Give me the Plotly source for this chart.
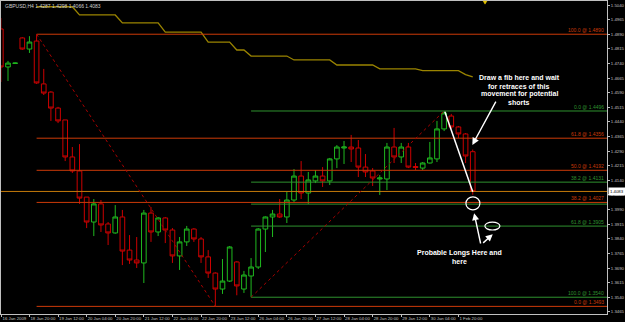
import plotly.graph_objects as go

symbol = "GBPUSD,H4"
bars = list(range(67))
opens = [1.4917, 1.4722, 1.4740, 1.4871, 1.4814, 1.4855, 1.4635, 1.4593, 1.4511, 1.4450,
         1.4260, 1.4188, 1.4054, 1.3926, 1.4019, 1.3916, 1.3870, 1.3952, 1.3782, 1.3731,
         1.3716, 1.3972, 1.3875, 1.3947, 1.3885, 1.3752, 1.3824, 1.3890, 1.3839, 1.3747,
         1.3664, 1.3582, 1.3623, 1.3721, 1.3582, 1.3649, 1.3695, 1.3890, 1.3952, 1.3967,
         1.3952, 1.4039, 1.4162, 1.4075, 1.4137, 1.4162, 1.4137, 1.4250, 1.4306, 1.4311,
         1.4306, 1.4208, 1.4188, 1.4147, 1.4147, 1.4311, 1.4260, 1.4311, 1.4211, 1.4203,
         1.4229, 1.4250, 1.4404, 1.4470, 1.4414, 1.4378, 1.4287]
highs = [1.4973, 1.4753, 1.4745, 1.4875, 1.4880, 1.4890, 1.4712, 1.4598, 1.4517, 1.4450,
         1.4311, 1.4326, 1.4054, 1.4044, 1.4039, 1.3926, 1.4013, 1.3988, 1.3859, 1.3849,
         1.3988, 1.4003, 1.3952, 1.3952, 1.3895, 1.3849, 1.3906, 1.3895, 1.3849, 1.3782,
         1.3668, 1.3736, 1.3803, 1.3725, 1.3675, 1.3741, 1.3895, 1.3955, 1.3988, 1.4044,
         1.4080, 1.4198, 1.4239, 1.4183, 1.4193, 1.4208, 1.4255, 1.4321, 1.4342, 1.4373,
         1.4347, 1.4275, 1.4203, 1.4167, 1.4332, 1.4409, 1.4332, 1.4332, 1.4229, 1.4234,
         1.4337, 1.4445, 1.4496, 1.4481, 1.4419, 1.4383, 1.4298]
lows = [1.4645, 1.4650, 1.4738, 1.4810, 1.4794, 1.4635, 1.4578, 1.4445, 1.4434, 1.4239,
        1.4178, 1.4019, 1.3895, 1.3854, 1.3875, 1.3808, 1.3866, 1.3705, 1.3711, 1.3690,
        1.3613, 1.3824, 1.3854, 1.3818, 1.3716, 1.3680, 1.3803, 1.3824, 1.3716, 1.3639,
        1.3493, 1.3557, 1.3618, 1.3550, 1.3562, 1.3540, 1.3685, 1.3772, 1.3849, 1.3947,
        1.3921, 1.4029, 1.4044, 1.4019, 1.4126, 1.4106, 1.4116, 1.4203, 1.4224, 1.4234,
        1.4157, 1.4157, 1.4111, 1.4065, 1.4090, 1.4229, 1.4229, 1.4203, 1.4193, 1.4193,
        1.4226, 1.4234, 1.4393, 1.4404, 1.4357, 1.4229, 1.4066]
closes = [1.4722, 1.4742, 1.4742, 1.4814, 1.4850, 1.4640, 1.4588, 1.4511, 1.4445, 1.4260,
          1.4188, 1.4049, 1.3926, 1.4019, 1.3911, 1.3870, 1.3952, 1.3777, 1.3731, 1.3716,
          1.3972, 1.3875, 1.3947, 1.3885, 1.3752, 1.3824, 1.3890, 1.3839, 1.3747, 1.3664,
          1.3582, 1.3623, 1.3798, 1.3598, 1.3654, 1.3695, 1.3890, 1.3952, 1.3967, 1.3952,
          1.4039, 1.4162, 1.4075, 1.4142, 1.4162, 1.4137, 1.4250, 1.4311, 1.4311, 1.4301,
          1.4208, 1.4183, 1.4152, 1.4152, 1.4311, 1.4260, 1.4311, 1.4208, 1.4206, 1.4229,
          1.4255, 1.4404, 1.4486, 1.4414, 1.4378, 1.4265, 1.4083]

# stepped indicator (bars 5..66)
ind_bars = list(range(5, 67))
ind_vals = [1.5031] * 6 + [1.4989] * 6 + [1.4948] * 6 + [1.4901] * 6 + [1.4850] * 4 + \
           [1.4809] * 2 + [1.4778] * 6 + [1.4758] * 6 + [1.4732] * 6 + [1.4712] * 6 + \
           [1.4703] * 6 + [1.4683, 1.4671]

# fibonacci tools
fib_levels = [0.0, 38.2, 50.0, 61.8, 100.0]
red_fib = dict(high=1.4890, low=1.3493, high_bar=5, low_bar=30)
green_fib = dict(high=1.4496, low=1.3540, high_bar=62, low_bar=35)
green_label_levels = [0.0, 38.2, 61.8, 100.0]

# axis ticks
y_ticks = [1.5040, 1.4965, 1.4890, 1.4815, 1.4740, 1.4665, 1.4590, 1.4515, 1.4440, 1.4365,
           1.4290, 1.4215, 1.4140, 1.4065, 1.3990, 1.3915, 1.3840, 1.3765, 1.3690, 1.3615,
           1.3540, 1.3465]
x_tick_bars = [0.1, 4, 8, 12, 16, 20, 24, 28, 32, 36, 40, 44, 48, 52, 56, 60, 64]
x_tick_text = ["16 Jan 2009", "18 Jan 20:00", "19 Jan 12:00", "20 Jan 04:00", "20 Jan 20:00",
               "21 Jan 12:00", "22 Jan 04:00", "22 Jan 20:00", "23 Jan 12:00", "26 Jan 04:00",
               "26 Jan 20:00", "27 Jan 12:00", "28 Jan 04:00", "28 Jan 20:00", "29 Jan 12:00",
               "30 Jan 04:00", "1 Feb 20:00"]

X_MIN, X_MAX = 0.021, 84.78
Y_MIN, Y_MAX = 1.34539, 1.50606

GREEN = "#1fb81f"
RED = "#cc0000"
FIB_RED = "#cc3a08"
FIB_GREEN = "#2f922f"
PRICE_LINE = "#c47a0a"
IND = "#9a8400"
AX = "#c0c0c0"
FONT = "Liberation Sans, Arial, sans-serif"
TICK_SIZE = 4.3

fig = go.Figure()

# indicator
fig.add_trace(go.Scatter(x=ind_bars, y=ind_vals, mode="lines",
                         line=dict(color=IND, width=1.3), hoverinfo="skip", showlegend=False))

# current price line
last = closes[-1]
fig.add_trace(go.Scatter(x=[X_MIN, X_MAX], y=[last, last], mode="lines",
                         line=dict(color=PRICE_LINE, width=1), hoverinfo="skip", showlegend=False))

annotations = []

# red fib
rf_range = red_fib["high"] - red_fib["low"]
for lvl in fib_levels:
    p = red_fib["low"] + lvl / 100 * rf_range
    fig.add_trace(go.Scatter(x=[red_fib["high_bar"], X_MAX], y=[p, p], mode="lines",
                             line=dict(color=FIB_RED, width=1), hoverinfo="skip", showlegend=False))
    annotations.append(dict(x=X_MAX - 0.25, y=p, xref="x", yref="y", xanchor="right", yanchor="bottom",
                            text=f"{lvl:.1f} @ {p:.4f}", showarrow=False, borderpad=0,
                            font=dict(size=5, color=FIB_RED, family=FONT)))
fig.add_trace(go.Scatter(x=[red_fib["high_bar"], red_fib["low_bar"]], y=[red_fib["high"], red_fib["low"]],
                         mode="lines", line=dict(color="#a80000", width=1, dash="dot"),
                         hoverinfo="skip", showlegend=False))

# green fib
gf_range = green_fib["high"] - green_fib["low"]
for lvl in fib_levels:
    p = green_fib["high"] - lvl / 100 * gf_range
    fig.add_trace(go.Scatter(x=[green_fib["low_bar"], X_MAX], y=[p, p], mode="lines",
                             line=dict(color=FIB_GREEN, width=1), hoverinfo="skip", showlegend=False))
    if lvl in green_label_levels:
        annotations.append(dict(x=X_MAX - 0.25, y=p, xref="x", yref="y", xanchor="right", yanchor="bottom",
                                text=f"{lvl:.1f} @ {p:.4f}", showarrow=False, borderpad=0,
                                font=dict(size=5, color=FIB_GREEN, family=FONT)))
fig.add_trace(go.Scatter(x=[green_fib["low_bar"], green_fib["high_bar"]], y=[green_fib["low"], green_fib["high"]],
                         mode="lines", line=dict(color="#a80000", width=1, dash="dot"),
                         hoverinfo="skip", showlegend=False))

# candles
fig.add_trace(go.Candlestick(
    x=bars, open=opens, high=highs, low=lows, close=closes,
    increasing=dict(line=dict(color=GREEN, width=1), fillcolor="black"),
    decreasing=dict(line=dict(color=RED, width=1), fillcolor="black"),
    whiskerwidth=0, hoverinfo="skip", showlegend=False))

# header
annotations.append(dict(x=0.004, y=0.999, xref="paper", yref="paper", xanchor="left", yanchor="top",
                        text=f"{symbol} {opens[-1]:.4f} {highs[-1]:.4f} {lows[-1]:.4f} {closes[-1]:.4f}",
                        showarrow=False, font=dict(size=5, color="#d0d0d0", family=FONT)))
# current price box
annotations.append(dict(x=1, y=last, xref="paper", yref="y", xanchor="left", yanchor="middle", xshift=1,
                        text=f"{last:.4f}", showarrow=False, bgcolor="white", borderpad=1,
                        font=dict(size=TICK_SIZE, color="black", family=FONT)))

# notes
note1 = ["Draw a fib here and wait", "for retraces of this", "movement for potential", "shorts"]
note1_y = [1.4667, 1.4624, 1.4582, 1.4539]
for t, yy in zip(note1, note1_y):
    annotations.append(dict(x=72.5, y=yy, xref="x", yref="y", text=f"<b>{t}</b>", showarrow=False,
                            font=dict(size=7, color="white", family=FONT)))
note2 = ["Probable Longs Here and", "here"]
note2_y = [1.3769, 1.3723]
for t, yy in zip(note2, note2_y):
    annotations.append(dict(x=64.2, y=yy, xref="x", yref="y", text=f"<b>{t}</b>", showarrow=False,
                            font=dict(size=7, color="white", family=FONT)))

arrows = [((65.95, 1.4322), (69.35, 1.4552)),
          ((66.2, 1.3971), (67.15, 1.3808)),
          ((68.8, 1.3863), (67.25, 1.3812))]
for (hx, hy), (tx, ty) in arrows:
    annotations.append(dict(x=hx, y=hy, ax=tx, ay=ty, xref="x", yref="y", axref="x", ayref="y",
                            text="", showarrow=True, arrowhead=2, arrowsize=1, arrowwidth=1.4,
                            arrowcolor="white"))

shapes = [
    dict(type="line", xref="x", yref="y", x0=62.1, y0=1.4492, x1=66.0, y1=1.4082,
         line=dict(color="white", width=1.5)),
    dict(type="circle", xref="x", yref="y", x0=65.05, x1=67.0, y0=1.3988, y1=1.4055,
         line=dict(color="white", width=1.2)),
    dict(type="circle", xref="x", yref="y", x0=67.7, x1=69.8, y0=1.3885, y1=1.3926,
         line=dict(color="white", width=1.2)),
    dict(type="path", xref="x", yref="paper", path="M 67.45 1 L 68.0 1 L 67.72 0.99 Z",
         fillcolor="#e0c000", line=dict(color="#e0c000", width=0.5)),
]

fig.update_layout(
    width=625, height=322,
    margin=dict(l=1, r=18, t=1, b=8, autoexpand=False),
    paper_bgcolor="black", plot_bgcolor="black",
    boxgap=0.35, boxgroupgap=0,
    showlegend=False,
    annotations=annotations, shapes=shapes,
    xaxis=dict(range=[X_MIN, X_MAX], showgrid=False, zeroline=False, showline=True, linecolor=AX,
               linewidth=1, mirror=True, ticks="outside", ticklen=2, tickcolor=AX,
               tickvals=x_tick_bars, ticktext=x_tick_text, ticklabelposition="outside right",
               tickangle=0, automargin=False,
               tickfont=dict(size=TICK_SIZE, color=AX, family=FONT), rangeslider=dict(visible=False)),
    yaxis=dict(range=[Y_MIN, Y_MAX], side="right", showgrid=False, zeroline=False, showline=True,
               linecolor=AX, linewidth=1, mirror=True, ticks="outside", ticklen=2, tickcolor=AX,
               tickvals=y_ticks, ticktext=[f"{v:.4f}" for v in y_ticks], automargin=False,
               tickfont=dict(size=TICK_SIZE, color=AX, family=FONT)),
)

fig.write_html("out.html")
